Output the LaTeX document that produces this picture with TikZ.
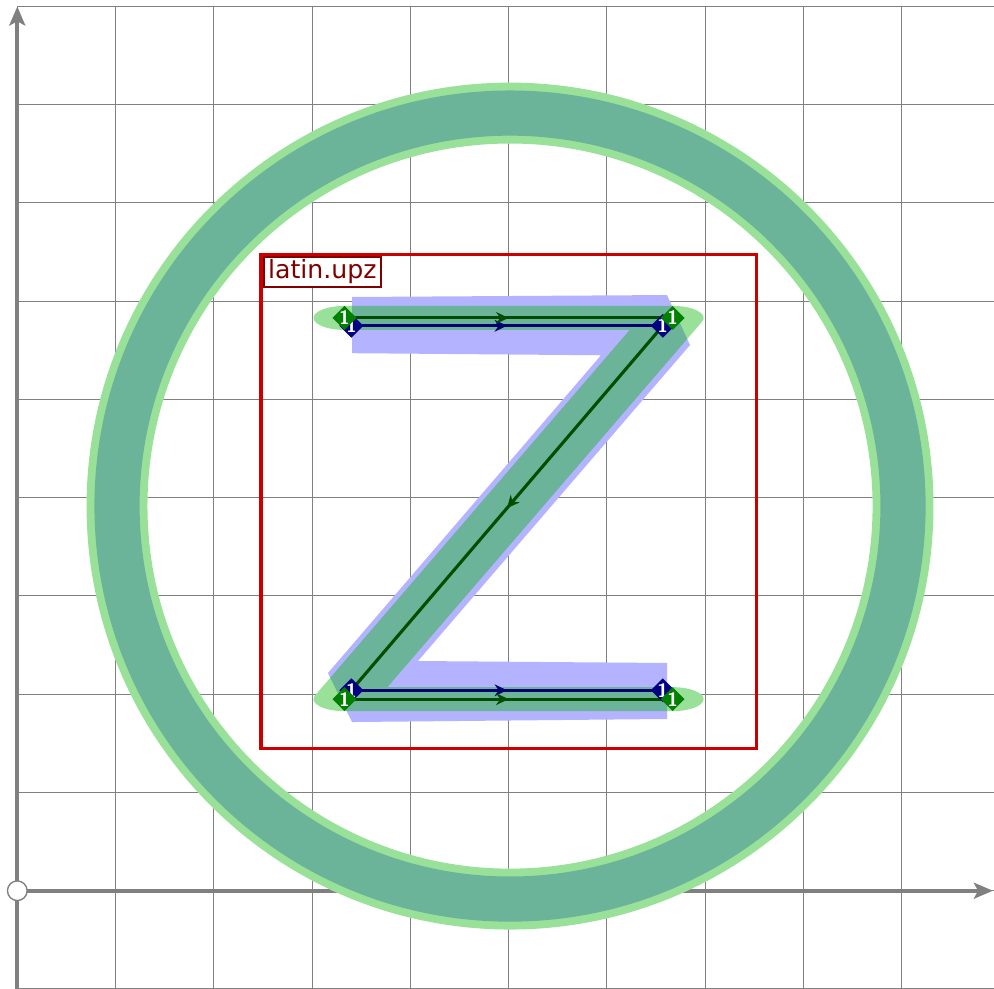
\documentclass[tikz,border=0pt]{standalone}
\usepackage{fontspec}
\newfontfamily\lblfont{DejaVu Sans}
\usetikzlibrary{arrows.meta,shapes.geometric,decorations.markings}

\definecolor{gridgray}{RGB}{128,128,128}
\definecolor{penblue}{RGB}{179,179,255}
\definecolor{pengreen}{RGB}{0,180,0}
\definecolor{boxred}{RGB}{204,0,0}
\definecolor{lblred}{RGB}{128,0,0}
\definecolor{pathgreen}{RGB}{0,77,0}
\definecolor{pathblue}{RGB}{0,0,110}
\definecolor{ptgreen}{RGB}{0,128,0}
\definecolor{ptblue}{RGB}{0,0,128}

\tikzset{
  gridline/.style={gridgray, line width=0.3pt},
  axisline/.style={gridgray, line width=1.15pt, -{Stealth[length=5.5pt,width=4.6pt,inset=1.2pt]}},
  origin/.style={circle, draw=gridgray, fill=white, line width=0.4pt, minimum size=0.2cm, inner sep=0pt},
  penstroke/.style={line width=0.244cm, line cap=round, line join=round},
  midarrow/.style={postaction={decorate},
    decoration={markings, mark=at position 0.5 with {\arrow{Stealth[length=3.6pt,width=3.4pt]}}}},
  greenline/.style={pathgreen, line width=0.9pt, midarrow},
  blueline/.style={pathblue, line width=0.9pt, midarrow},
  ptmark/.style={diamond, shape aspect=1, minimum width=0.205cm, minimum height=0.205cm, inner sep=0pt, text=white,
    font=\fontsize{5.6}{5.6}\selectfont\sffamily\bfseries},
  glyphlabel/.style={draw=lblred, fill=white, text=lblred, line width=0.6pt,
    inner xsep=1.2pt, inner ysep=0.8pt, font=\lblfont\fontsize{7.3}{8}\selectfont}
}

\begin{document}
\begin{tikzpicture}
        \useasboundingbox (-0.176,-0.990) rectangle (9.941,9.066);

        % grade e eixos
        \draw[gridline] (0,-1) grid (10,9);
        \draw[axisline] (0,-1.1) -- (0,9);
        \draw[axisline] (0,0) -- (9.93,0);
        \node[origin] (o) at (0,0) {};

        % circulo
        \draw[white, line width=0.62cm] (5.015,3.915) circle (4);
        \draw[penblue, line width=0.46cm] (5.015,3.915) circle (4);
        \draw[pengreen, draw opacity=0.4, line width=0.62cm] (5.015,3.915) circle (4);

        % caixa do glifo
        \draw[boxred, line width=0.9pt] (2.48,1.45) rectangle (7.52,6.48);
        \node[glyphlabel, anchor=north west] (lbl) at (2.50,6.46) {latin.upz};

        % contorno do Z
        \begin{scope}[transform canvas={xscale=2.585}, xscale=1/2.585]
            \draw[white, penstroke] (3.33,5.83) -- (6.67,5.83) -- (3.33,1.95) -- (6.67,1.95);
        \end{scope}
        \fill[penblue]
            (3.407,6.043) -- (6.613,6.063) -- (6.847,5.554) -- (4.078,2.338)
            -- (6.613,2.318) -- (6.613,1.748) -- (3.407,1.717) -- (3.162,2.216)
            -- (5.941,5.450) -- (3.407,5.471) -- cycle;
        \begin{scope}[transform canvas={xscale=2.585}, xscale=1/2.585]
            \draw[pengreen, draw opacity=0.4, penstroke]
                (3.33,5.83) -- (6.67,5.83) -- (3.33,1.95) -- (6.67,1.95);
        \end{scope}

        % caminhos
        \coordinate (gA) at (3.33,5.83);
        \coordinate (gB) at (6.67,5.83);
        \coordinate (gC) at (3.33,1.95);
        \coordinate (gD) at (6.67,1.95);
        \coordinate (bA) at (3.40,5.75);
        \coordinate (bB) at (6.57,5.75);
        \coordinate (bC) at (3.40,2.04);
        \coordinate (bD) at (6.57,2.04);

        \draw[blueline] (bA) -- (bB);
        \draw[blueline] (bC) -- (bD);
        \draw[greenline] (gA) -- (gB);
        \draw[greenline] (bB) -- (bC);
        \draw[greenline] (gC) -- (gD);

        \foreach \p in {bA,bB,bC,bD}
            \node[ptmark, fill=ptblue] (\p-pt) at (\p) {1};
        \foreach \p in {gA,gB,gC,gD}
            \node[ptmark, fill=ptgreen] (\p-pt) at (\p) {1};
\end{tikzpicture}
\end{document}
